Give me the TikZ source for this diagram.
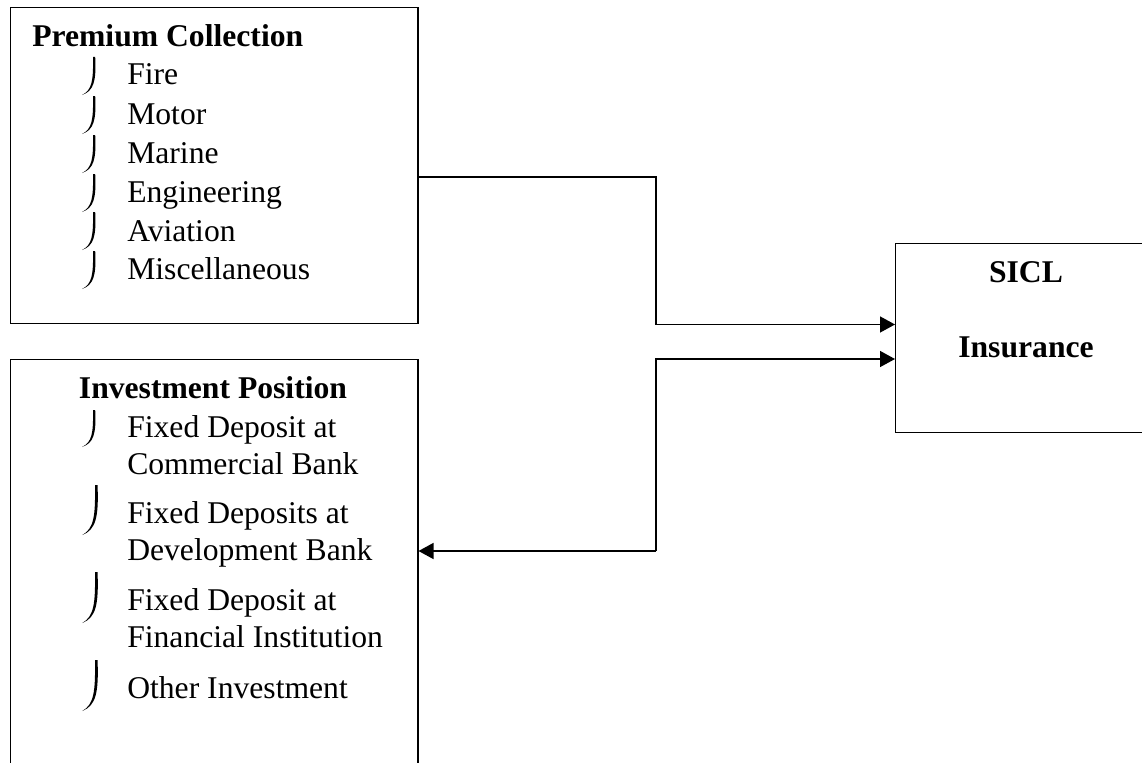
\documentclass[tikz,border=0pt]{standalone}
\usepackage{fontspec}
\setmainfont{Liberation Serif}
\usetikzlibrary{arrows.meta}
\tikzset{
	box/.style={draw, line width=1pt, inner sep=0, anchor=north west},
	item/.style={anchor=base west, inner sep=0},
	head/.style={anchor=base, inner sep=0, font=\fontsize{22.5}{27}\selectfont\bfseries},
	flow/.style={line width=1pt, -{Triangle[length=0.375cm,width=0.4cm]}}
}
\def\hook(#1,#2)(#3:#4){\fill[shift={(#1,#2)}, yscale=#3/38, xscale=#4] (0,0) .. controls (0.4,24) and (-1,33) .. (-11,38) .. controls (0.5,34) and (3.4,25) .. (2.2,0) -- cycle;}

\begin{document}
\begin{tikzpicture}[x=0.025cm, y=-0.025cm, font=\fontsize{22.5}{27}\selectfont]
		%%%%% START %%%%%
		\useasboundingbox (0,0) rectangle (1142,762);
		
		\node[box, minimum width=10.175cm, minimum height=7.9cm] (prem) at (10,7) {};
		\node[box, minimum width=10.175cm, minimum height=10.5cm] (inv) at (10,359) {};
		\node[box, minimum width=6.575cm, minimum height=4.725cm] (sicl) at (895,243) {};
		
		\node[head, anchor=base west] (premhead) at (32,47) {Premium Collection};
		\node[item] (fire) at (127,85) {Fire};
		\node[item] (motor) at (127,124) {Motor};
		\node[item] (marine) at (127,163) {Marine};
		\node[item] (engg) at (127,202) {Engineering};
		\node[item] (aviation) at (127,241) {Aviation};
		\node[item] (misc) at (127,279) {Miscellaneous};
		\foreach \y in {57,96,135,174,212,251}
			\hook(93,\y)(38:1);
		
		\node[head] (invhead) at (213,398) {Investment Position};
		\node[item] (fdcom1) at (127,437) {Fixed Deposit at};
		\node[item] (fdcom2) at (127,474) {Commercial Bank};
		\node[item] (fddev1) at (127,523) {Fixed Deposits at};
		\node[item] (fddev2) at (127,560) {Development Bank};
		\node[item] (fdfin1) at (127,610) {Fixed Deposit at};
		\node[item] (fdfin2) at (127,647) {Financial Institution};
		\node[item] (other) at (127,698) {Other Investment};
		\hook(93,410)(37:1);
		\hook(95,485)(50:1.15);
		\hook(95,572)(51:1.15);
		\hook(95,660)(51:1.15);
		
		\node[head] (siclhead) at (1026,282) {SICL};
		\node[head] (insurance) at (1026,357) {Insurance};
		
		\coordinate (pbend) at (656,177);
		\coordinate (ibend) at (656,551);
		\draw[flow] (prem.east |- pbend) -- (pbend) |- (sicl.west |- prem.south);
		\draw[flow] (ibend) |- (sicl.west |- inv.north);
		\draw[flow] (ibend) -- (inv.east |- ibend);
		%%%%% END %%%%%
\end{tikzpicture}
\end{document}
